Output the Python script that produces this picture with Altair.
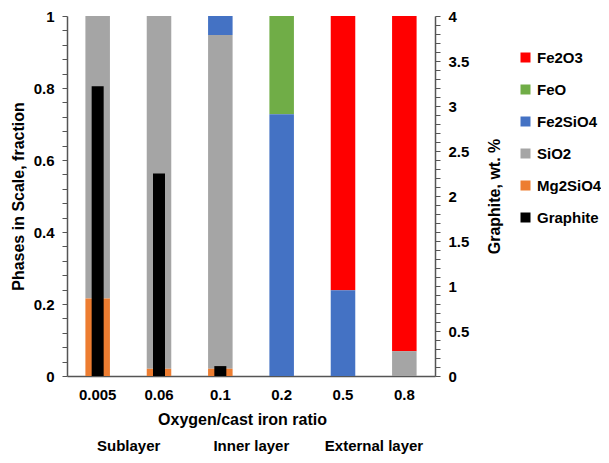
import altair as alt
import pandas as pd

categories = ["0.005", "0.06", "0.1", "0.2", "0.5", "0.8"]
phases = ["Fe2O3", "FeO", "Fe2SiO4", "SiO2", "Mg2SiO4"]
fe2o3 = [0.0, 0.0, 0.0, 0.0, 0.762, 0.931]
feo = [0.0, 0.0, 0.0, 0.273, 0.0, 0.0]
fe2sio4 = [0.0, 0.0, 0.053, 0.727, 0.238, 0.0]
sio2 = [0.785, 0.98, 0.927, 0.0, 0.0, 0.069]
mg2sio4 = [0.215, 0.02, 0.02, 0.0, 0.0, 0.0]
graphite = [3.22, 2.25, 0.11, 0.0, 0.0, 0.0]
layer_names = ["Sublayer", "Inner layer", "External layer"]
layer_anchor = ["0.005", "0.1", "0.5"]

legend_order = ["Fe2O3", "FeO", "Fe2SiO4", "SiO2", "Mg2SiO4", "Graphite"]
colors = ["#FF0000", "#70AD47", "#4472C4", "#A5A5A5", "#ED7D31", "#000000"]
stack_order = {"Mg2SiO4": 0, "SiO2": 1, "Fe2SiO4": 2, "FeO": 3, "Fe2O3": 4}

series = {"Fe2O3": fe2o3, "FeO": feo, "Fe2SiO4": fe2sio4, "SiO2": sio2, "Mg2SiO4": mg2sio4}
rows = []
for ph in phases:
    for c, v in zip(categories, series[ph]):
        rows.append({"cat": c, "phase": ph, "value": v, "ord": stack_order[ph]})
df = pd.DataFrame(rows)
gdf = pd.DataFrame({"cat": categories, "phase": "Graphite", "value": graphite})
ldf = pd.DataFrame({"cat": layer_anchor, "label": layer_names})

FONT = "Liberation Sans"
left_vals = [round(i * 0.04, 2) for i in range(26)]
right_vals = [round(i * 0.1, 1) for i in range(41)]

xenc = alt.X(
    "cat:N",
    sort=categories,
    scale=alt.Scale(paddingInner=0.6, paddingOuter=0.3),
    axis=alt.Axis(
        title="Oxygen/cast iron ratio",
        labelAngle=0,
        ticks=False,
        tickSize=0,
        labelPadding=11,
        titlePadding=9,
        titleX=175,
        labelFontSize=15,
        titleFontSize=16,
    ),
)

color = alt.Color(
    "phase:N",
    scale=alt.Scale(domain=legend_order, range=colors),
    legend=alt.Legend(
        title=None,
        orient="none",
        legendX=451,
        legendY=34,
        symbolType="square",
        symbolSize=100,
        symbolStrokeWidth=0,
        labelFontSize=15,
        labelFont=FONT,
        labelFontWeight="bold",
        labelOffset=4,
        rowPadding=16,
        padding=0,
    ),
)

bars = alt.Chart(df).mark_bar().encode(
    x=xenc,
    y=alt.Y(
        "value:Q",
        stack="zero",
        scale=alt.Scale(domain=[0, 1], nice=False),
        axis=alt.Axis(
            title="Phases in Scale, fraction",
            values=left_vals,
            labelExpr="abs(datum.value*5 - round(datum.value*5)) < 0.001 ? format(datum.value, '~g') : ''",
            labelOverlap=False,
            tickSize=5,
            labelPadding=8,
            titlePadding=7,
            grid=False,
            labelFontSize=15,
            titleFontSize=16,
        ),
    ),
    color=color,
    order=alt.Order("ord:Q", sort="ascending"),
)

gbars = alt.Chart(gdf).mark_bar(width=12).encode(
    x=alt.X("cat:N", sort=categories),
    y=alt.Y(
        "value:Q",
        scale=alt.Scale(domain=[0, 4], nice=False),
        axis=alt.Axis(
            title="Graphite, wt. %",
            orient="right",
            titleAngle=270,
            titleBaseline="top",
            values=right_vals,
            labelExpr="abs(datum.value*2 - round(datum.value*2)) < 0.001 ? format(datum.value, '~g') : ''",
            labelOverlap=False,
            tickSize=5,
            labelPadding=8,
            titlePadding=18,
            grid=False,
            labelFontSize=15,
            titleFontSize=16,
        ),
    ),
    color=color,
)

texts = alt.Chart(ldf).mark_text(
    dx=31, font=FONT, fontWeight="bold", fontSize=15, baseline="middle", color="black"
).encode(
    x=alt.X("cat:N", sort=categories),
    y=alt.value(430),
    text="label:N",
)

chart = (
    alt.layer(bars, gbars, texts)
    .resolve_scale(y="independent")
    .properties(
        width=368,
        height=360,
        autosize=alt.AutoSizeParams(type="none"),
        padding={"left": 59, "top": 8, "right": 166, "bottom": 79},
    )
    .configure_view(stroke=None)
    .configure_axis(
        labelFont=FONT,
        titleFont=FONT,
        labelFontWeight="bold",
        titleFontWeight="bold",
        labelColor="black",
        titleColor="black",
        domainColor="#555555",
        tickColor="#555555",
        domainWidth=1.5,
    )
)

chart.save("out.html", embed_options={"renderer": "svg", "actions": False})
